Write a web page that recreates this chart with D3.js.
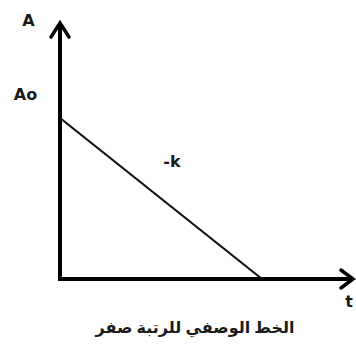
<!DOCTYPE html>
<html>
<head>
<meta charset="utf-8">
<script src="https://cdn.jsdelivr.net/npm/d3@7"></script>
<style>
  html, body { margin: 0; padding: 0; background: #fff; }
  svg { display: block; }
</style>
</head>
<body>
<script>
// Zero-order kinetics: concentration falls linearly with time
const times = [0, 8];
const concentrations = [8, 0];
const axisLabels = { y: "A", x: "t" };
const initialLabel = "Ao";
const slopeLabel = "-k";
const caption = "الخط الوصفي للرتبة صفر";

const W = 356, H = 345;
const svg = d3.select("body").append("svg").attr("width", W).attr("height", H);

const x = d3.scaleLinear().domain([0, 8]).range([60, 262]);
const y = d3.scaleLinear().domain([0, 8]).range([279, 118]);

const xMax = x.invert(353), yMax = y.invert(23);

// Axes drawn as thick arrows
const axisColor = "#000";
svg.append("line")
  .attr("x1", x(0)).attr("y1", y(0) + 2)
  .attr("x2", x(0)).attr("y2", y(yMax))
  .attr("stroke", axisColor).attr("stroke-width", 4);
svg.append("line")
  .attr("x1", x(0) - 2).attr("y1", y(0))
  .attr("x2", x(xMax)).attr("y2", y(0))
  .attr("stroke", axisColor).attr("stroke-width", 4);

// arrow heads (chevrons)
const tipY = [x(0), y(yMax)];
svg.append("path")
  .attr("d", d3.line()([[tipY[0] - 9, tipY[1] + 14], tipY, [tipY[0] + 9, tipY[1] + 14]]))
  .attr("fill", "none").attr("stroke", axisColor).attr("stroke-width", 3.5)
  .attr("stroke-linejoin", "miter").attr("stroke-linecap", "round");
const tipX = [x(xMax), y(0)];
svg.append("path")
  .attr("d", d3.line()([[tipX[0] - 12, tipX[1] - 9], tipX, [tipX[0] - 12, tipX[1] + 9]]))
  .attr("fill", "none").attr("stroke", axisColor).attr("stroke-width", 3.5)
  .attr("stroke-linejoin", "miter").attr("stroke-linecap", "round");

// concentration line
svg.append("path")
  .datum(times.map((t, i) => [t, concentrations[i]]))
  .attr("d", d3.line().x(d => x(d[0])).y(d => y(d[1])))
  .attr("fill", "none").attr("stroke", "#111").attr("stroke-width", 2.2);

const font = "'DejaVu Sans', sans-serif";
const txt = (s, px, py, size, anchor = "start", fam = font) =>
  svg.append("text").attr("x", px).attr("y", py)
    .attr("font-family", fam).attr("font-size", size)
    .attr("font-weight", "bold").attr("fill", "#1a1a1a")
    .attr("text-anchor", anchor).text(s);

txt(axisLabels.y, 28.5, 26, 16, "middle");
txt(initialLabel, 25.5, 100, 16, "middle");
txt(slopeLabel, 172, 166.5, 16, "middle");
txt(axisLabels.x, 349, 307, 16, "middle");
txt(caption, 195, 333, 16, "middle", "'Noto Sans', 'DejaVu Sans', sans-serif")
  .attr("direction", "rtl");
</script>
</body>
</html>
